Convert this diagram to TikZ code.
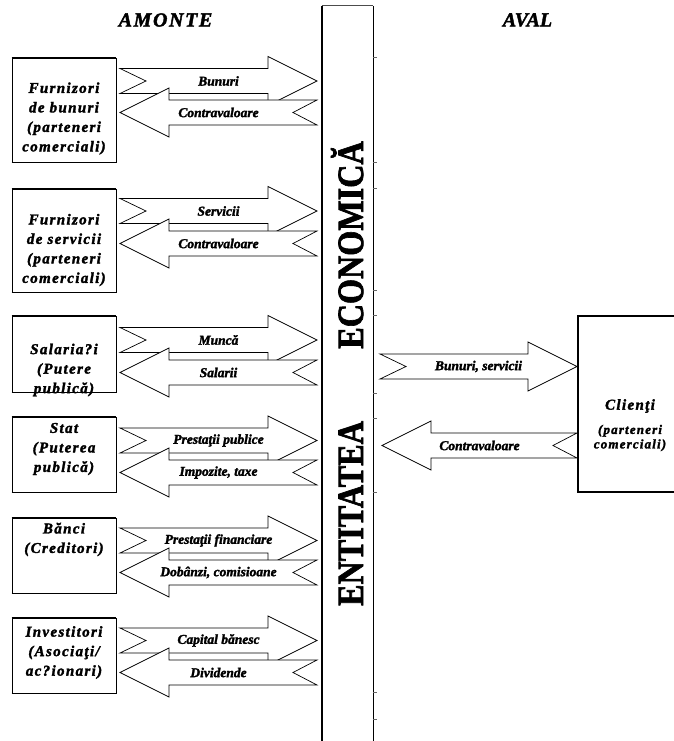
\documentclass[tikz,border=0pt]{standalone}
\usepackage{fontspec}
\setmainfont{Liberation Serif}[
  BoldFont={Liberation Serif Bold},
  BoldItalicFont={Liberation Serif Bold Italic},
  BoldFeatures={FakeBold=2},
  BoldItalicFeatures={FakeBold=2}]
\newfontfamily\boxserif{Liberation Serif}[LetterSpace=9,
  BoldFont={Liberation Serif Bold},
  BoldItalicFont={Liberation Serif Bold Italic},
  BoldFeatures={FakeBold=2},
  BoldItalicFeatures={FakeBold=2}]
\newfontfamily\headserif{Liberation Serif}[LetterSpace=8,
  BoldFont={Liberation Serif Bold},
  BoldItalicFont={Liberation Serif Bold Italic},
  BoldFeatures={FakeBold=2},
  BoldItalicFeatures={FakeBold=2}]
\usetikzlibrary{calc}

% right-pointing block arrow with notched tail: tail x, tip x, axis y, label, label name
\newcommand\inflow[5]{%
  \draw[blockarrow] (#1,#3-12.5) -- ({#2-49},#3-12.5) -- ({#2-49},#3-24.5) -- (#2,#3)
    -- ({#2-49},#3+24.5) -- ({#2-49},#3+12.5) -- (#1,#3+12.5) -- ({#1+26},#3) -- cycle;
  \node[flowtext] (#5) at ({(#1+#2)/2},#3) {#4};}
% left-pointing block arrow with notched tail: tip x, tail x, axis y, label, label name
\newcommand\outflow[5]{%
  \draw[blockarrow] (#1,#3) -- ({#1+49},#3-24.5) -- ({#1+49},#3-12.5) -- (#2,#3-12.5)
    -- ({#2-24},#3) -- (#2,#3+12.5) -- ({#1+49},#3+12.5) -- ({#1+49},#3+24.5) -- cycle;
  \node[flowtext] (#5) at ({(#1+#2)/2},#3) {#4};}

\begin{document}
\begin{tikzpicture}[x=1pt,y=-1pt,
  blockarrow/.style={draw=black, fill=white, line width=0.7pt, line join=miter},
  flowtext/.style={inner sep=0pt, font=\bfseries\itshape\fontsize{13.5}{15}\selectfont},
  partybox/.style={draw=black, line width=0.9pt, minimum width=104pt, inner sep=0pt},
  partytext/.style={inner sep=0pt, align=center, font=\boxserif\bfseries\itshape\fontsize{15}{19.5}\selectfont},
  heading/.style={inner sep=0pt, font=\bfseries\itshape\fontsize{20}{22}\selectfont},
  barword/.style={inner sep=0pt, anchor=base, rotate=90, font=\bfseries\fontsize{37}{40}\selectfont}]
\useasboundingbox (0,0) rectangle (674,741);
\clip (0,0) rectangle (674,741);

% column headings
\node[heading, font=\headserif\bfseries\itshape\fontsize{20}{22}\selectfont] (amonte) at (165.5,20) {AMONTE};
\node[heading] (aval) at (527.5,20) {AVAL};

% the central column
\node[minimum width=51pt, minimum height=740pt, inner sep=0pt] (bar) at (347.5,376) {};
\draw[line width=0.7pt, black!70] (bar.north west) -- (bar.north east);
\draw[line width=2.4pt] ([yshift=-0.5pt]bar.north west) -- (bar.south west);
\draw[line width=0.8pt] (bar.north east) -- (bar.south east);
\foreach \ty in {57,162,188,290,315,393,418,492,692,719}
  \draw[line width=0.5pt, black!60] (373,\ty) -- (376.5,\ty);
\node[barword] (word2) at (363,245) {\scalebox{0.87}[1]{ECONOMICĂ}};
\node[barword] (word1) at (363,513.5) {\scalebox{0.87}[1]{ENTITATEA}};

% upstream partners
\node[partybox, minimum height=104pt] (b1) at (64,110) {};
\node[partytext] (t1) at (64,118.5) {Furnizori\\de bunuri\\(parteneri\\comerciali)};
\node[partybox, minimum height=103pt] (b2) at (64,240.5) {};
\node[partytext] (t2) at (64,250) {Furnizori\\de servicii\\(parteneri\\comerciali)};
\node[partybox, minimum height=76pt] (b3) at (64,354) {};
\node[partytext] (t3) at (64,370) {Salaria?i\\(Putere\\publică)};
\node[partybox, minimum height=75pt] (b4) at (64,454.5) {};
\node[partytext] (t4) at (64,449) {Stat\\(Puterea\\publică)};
\node[partybox, minimum height=75pt] (b5) at (64,555.5) {};
\node[partytext] (t5) at (64,539.5) {Bănci\\(Creditori)};
\node[partybox, minimum height=75pt] (b6) at (64,655.5) {};
\node[partytext] (t6) at (64,652.5) {Investitori\\(Asociaţi/\\ac?ionari)};
% heavier top and bottom rules of the partner boxes
\foreach \b in {b1,b2,b3,b4,b5,b6}
  \draw[line width=1.8pt] (\b.north west) -- (\b.north east) (\b.south west) -- (\b.south east);

% flows between the partners and the entity
\inflow{120}{317}{81}{Bunuri}{f1}
\outflow{120}{317}{112.5}{Contravaloare}{g1}
\inflow{120}{317}{211}{Servicii}{f2}
\outflow{120}{317}{243.5}{Contravaloare}{g2}
\inflow{120}{317}{340}{Muncă}{f3}
\outflow{120}{317}{372.5}{Salarii}{g3}
\inflow{120}{317}{440.5}{Prestaţii publice}{f4}
\outflow{120}{317}{472.5}{Impozite, taxe}{g4}
\inflow{120}{317}{540.5}{Prestaţii financiare}{f5}
\outflow{120}{317}{572.5}{Dobânzi, comisioane}{g5}
\inflow{120}{317}{640.5}{Capital bănesc}{f6}
\outflow{120}{317}{672.5}{Dividende}{g6}

% downstream partner
\node[draw=black, line width=1.6pt, minimum width=112pt, minimum height=176pt, inner sep=0pt] (cl) at (634,404) {};
\node[partytext, font=\boxserif\bfseries\itshape\fontsize{15}{17}\selectfont] (clname) at (630,406) {Clienţi};
\node[partytext, font=\boxserif\bfseries\itshape\fontsize{13}{14.5}\selectfont] (clnote) at (630,438) {(parteneri\\comerciali)};

\inflow{380}{577}{366.5}{Bunuri, servicii}{f7}
\outflow{382}{577}{445.5}{Contravaloare}{g7}
\end{tikzpicture}
\end{document}
